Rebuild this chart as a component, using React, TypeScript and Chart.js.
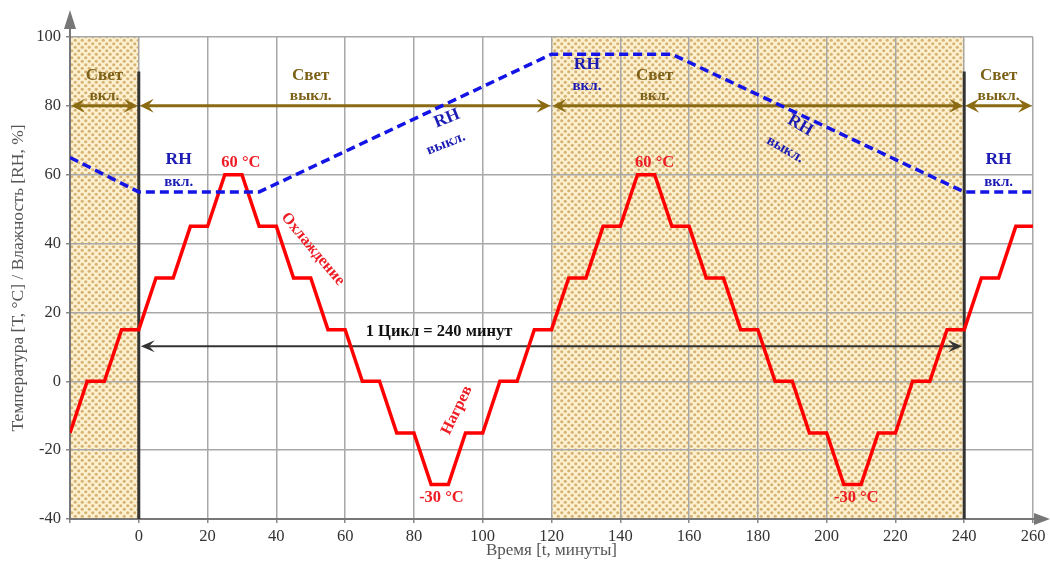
import React, { useEffect, useRef } from "react";
import { Chart, registerables } from "chart.js";

Chart.register(...registerables);

// Temperature profile (time in minutes, °C)
const tempTime = [-20, -15, -10, -5, 0, 5, 10, 15, 20, 25, 30, 35, 40, 45, 50, 55, 60, 65, 70, 75, 80, 85, 90, 95, 100, 105, 110, 115, 120, 125, 130, 135, 140, 145, 150, 155, 160, 165, 170, 175, 180, 185, 190, 195, 200, 205, 210, 215, 220, 225, 230, 235, 240, 245, 250, 255, 260];
const tempValues = [-15, 0, 0, 15, 15, 30, 30, 45, 45, 60, 60, 45, 45, 30, 30, 15, 15, 0, 0, -15, -15, -30, -30, -15, -15, 0, 0, 15, 15, 30, 30, 45, 45, 60, 60, 45, 45, 30, 30, 15, 15, 0, 0, -15, -15, -30, -30, -15, -15, 0, 0, 15, 15, 30, 30, 45, 45];

// Humidity profile (time in minutes, %)
const rhTime = [-20, 0, 35, 120, 155, 240, 260];
const rhValues = [65, 55, 55, 95, 95, 55, 55];

// Light periods
const lightOnRanges = [[-20, 0], [120, 240]];
const lightArrowRanges = [[-20, 0], [0, 120], [120, 240], [240, 260]];
const lightLabels = [
  { x: -10, text: "вкл." },
  { x: 50, text: "выкл." },
  { x: 150, text: "вкл." },
  { x: 250, text: "выкл." },
];
const cycleLines = [0, 240];

const xTicksMin = -20;
const xTicksMax = 260;
const yTicksMin = -40;
const yTicksMax = 100;

const SERIF = "'Liberation Serif', 'DejaVu Serif', serif";

function makePattern(): CanvasPattern | string {
  const c = document.createElement("canvas");
  c.width = 7;
  c.height = 7;
  const g = c.getContext("2d");
  if (!g) return "#ecd9a8";
  g.fillStyle = "#fcf0cf";
  g.fillRect(0, 0, 7, 7);
  g.fillStyle = "#d6b274";
  g.beginPath();
  g.arc(1.75, 1.75, 1.6, 0, Math.PI * 2);
  g.fill();
  g.beginPath();
  g.arc(5.25, 5.25, 1.6, 0, Math.PI * 2);
  g.fill();
  const p = g.createPattern(c, "repeat");
  return p || "#ecd9a8";
}

function arrowHead(ctx: CanvasRenderingContext2D, x: number, y: number, dir: number, len: number, half: number) {
  ctx.beginPath();
  ctx.moveTo(x, y);
  ctx.lineTo(x - dir * len, y - half);
  ctx.lineTo(x - dir * len * 0.6, y);
  ctx.lineTo(x - dir * len, y + half);
  ctx.closePath();
  ctx.fill();
}

function dblArrow(ctx: CanvasRenderingContext2D, x1: number, x2: number, y: number, color: string, lw: number, len: number, half: number) {
  ctx.save();
  ctx.strokeStyle = color;
  ctx.fillStyle = color;
  ctx.lineWidth = lw;
  ctx.beginPath();
  ctx.moveTo(x1 + len * 0.6, y);
  ctx.lineTo(x2 - len * 0.6, y);
  ctx.stroke();
  arrowHead(ctx, x1, y, -1, len, half);
  arrowHead(ctx, x2, y, 1, len, half);
  ctx.restore();
}

function label(ctx: CanvasRenderingContext2D, text: string, x: number, y: number, color: string, size: number, rot = 0, bold = true) {
  ctx.save();
  ctx.translate(x, y);
  ctx.rotate((rot * Math.PI) / 180);
  ctx.fillStyle = color;
  ctx.font = `${bold ? "bold " : ""}${size}px ${SERIF}`;
  ctx.textAlign = "center";
  ctx.textBaseline = "middle";
  ctx.fillText(text, 0, 0);
  ctx.restore();
}

export default function App() {
  const ref = useRef<HTMLCanvasElement | null>(null);

  useEffect(() => {
    if (!ref.current) return;
    const pattern = makePattern();

    const bgPlugin = {
      id: "bg",
      beforeDraw(chart: any) {
        const { ctx, chartArea, scales } = chart;
        const xs = scales.x;
        ctx.save();
        ctx.fillStyle = pattern;
        for (const [a, b] of lightOnRanges) {
          const x1 = xs.getPixelForValue(a);
          const x2 = xs.getPixelForValue(b);
          ctx.fillRect(x1, chartArea.top, x2 - x1, chartArea.bottom - chartArea.top);
        }
        ctx.restore();
      },
      beforeDatasetsDraw(chart: any) {
        const { ctx, chartArea, scales } = chart;
        const xs = scales.x;
        const ys = scales.y;
        // axis arrows
        ctx.save();
        ctx.fillStyle = "#777";
        ctx.strokeStyle = "#777";
        ctx.lineWidth = 2;
        ctx.beginPath();
        ctx.moveTo(chartArea.left, chartArea.top);
        ctx.lineTo(chartArea.left, 20);
        ctx.stroke();
        ctx.beginPath();
        ctx.moveTo(chartArea.left, 10);
        ctx.lineTo(chartArea.left - 6, 29);
        ctx.lineTo(chartArea.left + 6, 29);
        ctx.closePath();
        ctx.fill();
        ctx.beginPath();
        ctx.moveTo(chartArea.right, chartArea.bottom);
        ctx.lineTo(1040, chartArea.bottom);
        ctx.stroke();
        ctx.beginPath();
        ctx.moveTo(1050, chartArea.bottom);
        ctx.lineTo(1034, chartArea.bottom - 6);
        ctx.lineTo(1034, chartArea.bottom + 6);
        ctx.closePath();
        ctx.fill();
        ctx.restore();

        // cycle boundaries
        ctx.save();
        ctx.strokeStyle = "#333";
        ctx.lineWidth = 3;
        for (const c of cycleLines) {
          const px = xs.getPixelForValue(c);
          ctx.beginPath();
          ctx.moveTo(px, ys.getPixelForValue(-40));
          ctx.lineTo(px, ys.getPixelForValue(90));
          ctx.stroke();
        }
        ctx.restore();

        // light arrows
        const ya = ys.getPixelForValue(80);
        for (const [a, b] of lightArrowRanges) {
          dblArrow(ctx, xs.getPixelForValue(a) + 1, xs.getPixelForValue(b) - 1, ya, "#8a6a12", 3, 14, 7);
        }
        // cycle arrow
        dblArrow(ctx, xs.getPixelForValue(0) + 2, xs.getPixelForValue(240) - 2, ys.getPixelForValue(10.2), "#333", 2, 14, 6);
      },
      afterDatasetsDraw(chart: any) {
        const { ctx, scales } = chart;
        const xs = scales.x;
        const ys = scales.y;
        const P = (x: number, y: number) => [xs.getPixelForValue(x), ys.getPixelForValue(y)];
        const brown = "#7d6118";
        for (const l of lightLabels) {
          const [x1, y1] = P(l.x, 88.8);
          label(ctx, "Свет", x1, y1, brown, 17);
          const [x2, y2] = P(l.x, 83.0);
          label(ctx, l.text, x2, y2, brown, 15.5);
        }
        const blue = "#1c1cb4";
        const rh = (x: number, y: number, text2: string, rot: number, dx: number, dy: number) => {
          const [px, py] = P(x, y);
          label(ctx, "RH", px, py, blue, 17.5, rot);
          label(ctx, text2, px + dx, py + dy, blue, 15, rot);
        };
        rh(11.6, 64.5, "вкл.", 0, 0, 23);
        rh(130.3, 92.0, "вкл.", 0, 0, 22);
        rh(250, 64.5, "вкл.", 0, 0, 23);
        rh(89.6, 76.3, "выкл.", -22, -1, 25);
        rh(192.3, 74.3, "выкл.", 30, -15, 24);

        const red = "#ee1c24";
        let [a, b] = P(29.7, 63.6);
        label(ctx, "60 °C", a, b, red, 16.5);
        [a, b] = P(150, 63.6);
        label(ctx, "60 °C", a, b, red, 16.5);
        [a, b] = P(88, -33.8);
        label(ctx, "-30 °C", a, b, red, 16.5);
        [a, b] = P(208.6, -33.8);
        label(ctx, "-30 °C", a, b, red, 16.5);
        [a, b] = P(50.6, 38.4);
        label(ctx, "Охлаждение", a, b, red, 16, 50);
        [a, b] = P(92.5, -8.4);
        label(ctx, "Нагрев", a, b, red, 16, -64);

        [a, b] = P(87.3, 14.3);
        label(ctx, "1 Цикл = 240 минут", a, b, "#111", 16.5);
      },
    };

    const chart = new Chart(ref.current, {
      type: "line",
      data: {
        datasets: [
          {
            label: "Температура",
            data: tempTime.map((t, i) => ({ x: t, y: tempValues[i] })),
            borderColor: "#ff0000",
            borderWidth: 3.5,
            pointRadius: 0,
            tension: 0,
            order: 2,
          },
          {
            label: "Влажность",
            data: rhTime.map((t, i) => ({ x: t, y: rhValues[i] })),
            borderColor: "#1414e6",
            borderWidth: 3.5,
            borderDash: [9, 5],
            pointRadius: 0,
            tension: 0,
            order: 1,
          },
        ],
      },
      options: {
        animation: false,
        responsive: false,
        events: [],
        layout: { padding: { left: 0, right: 17, top: 37, bottom: 0 } },
        plugins: { legend: { display: false }, tooltip: { enabled: false }, title: { display: false } },
        scales: {
          x: {
            type: "linear",
            min: xTicksMin,
            max: xTicksMax,
            afterFit: (s: any) => {
              s.height = 42;
            },
            ticks: {
              stepSize: 20,
              color: "#333",
              font: { family: SERIF, size: 16.5 },
              padding: 4,
              maxRotation: 0,
              callback: (v: any) => (v === xTicksMin ? "" : String(v)),
            },
            grid: { color: "#a8a8a8", lineWidth: 1.5, drawTicks: true, tickLength: 4, tickColor: "#888" },
            border: { color: "#777", width: 2 },
            title: {
              display: true,
              text: "Время [t, минуты]",
              color: "#555",
              font: { family: SERIF, size: 17 },
              padding: { top: -6, bottom: 0 },
            },
          },
          y: {
            min: yTicksMin,
            max: yTicksMax,
            afterFit: (s: any) => {
              s.width = 70;
            },
            ticks: {
              stepSize: 20,
              color: "#333",
              font: { family: SERIF, size: 16.5 },
              padding: 5,
            },
            grid: { color: "#a8a8a8", lineWidth: 1.5, drawTicks: true, tickLength: 4, tickColor: "#888" },
            border: { color: "#777", width: 2 },
            title: {
              display: true,
              text: "Температура [T, °C] / Влажность [RH, %]",
              color: "#555",
              font: { family: SERIF, size: 17.5 },
              padding: { top: 8, bottom: 0 },
            },
          },
        },
      },
      plugins: [bgPlugin],
    });
    return () => chart.destroy();
  }, []);

  return (
    <div style={{ position: "fixed", left: 0, top: 0, width: 1050, height: 561, background: "#fff" }}>
      <canvas ref={ref} width={1050} height={561} style={{ display: "block", width: 1050, height: 561 }} />
    </div>
  );
}
